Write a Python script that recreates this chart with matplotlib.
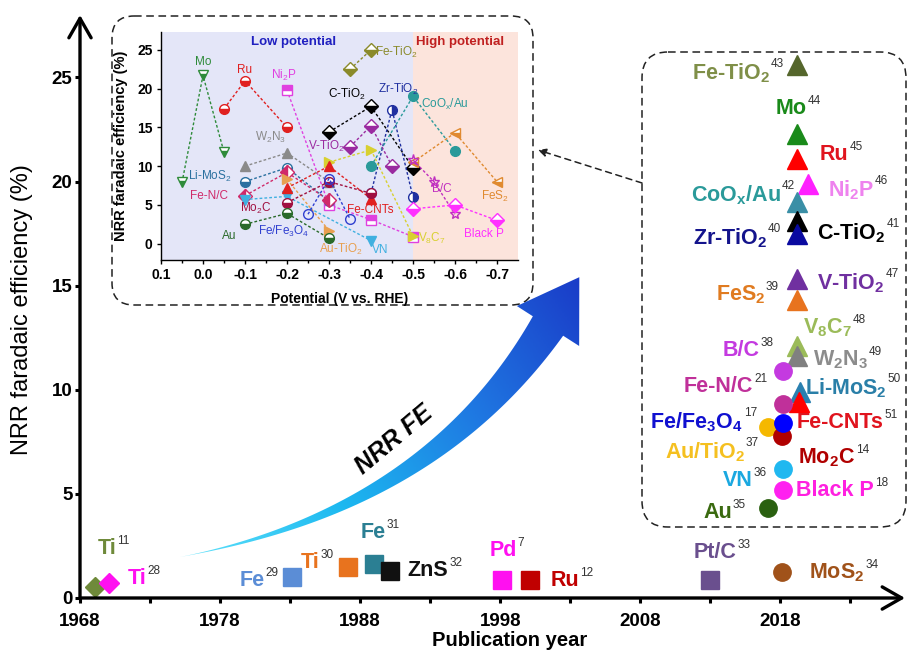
import numpy as np
import matplotlib
matplotlib.use("Agg")
import matplotlib.pyplot as plt
from matplotlib.patches import FancyBboxPatch, Polygon
from matplotlib.colors import LinearSegmentedColormap

plt.rcParams['font.family'] = 'Liberation Sans'
plt.rcParams['mathtext.fontset'] = 'custom'
plt.rcParams['mathtext.rm'] = 'Liberation Sans'
plt.rcParams['mathtext.bf'] = 'Liberation Sans:bold'
plt.rcParams['mathtext.default'] = 'regular'

# ---- main chart data: year of publication vs NRR faradaic efficiency (%)
early_names = ['Ti', 'Ti', 'Fe', 'Ti', 'Fe', 'ZnS', 'Pd', 'Ru', 'Pt/C', r'MoS$_\mathbf{2}$']
early_refs = ['11', '28', '29', '30', '31', '32', '7', '12', '33', '34']
early_year = [1969.1, 1970.1, 1983.1, 1987.1, 1989.0, 1990.1, 1998.1, 2000.1, 2013.0, 2018.1]
early_fe = [0.55, 0.7, 1.0, 1.5, 1.65, 1.3, 0.85, 0.85, 0.85, 1.25]

tri_names = [r'Fe-TiO$_\mathbf{2}$', 'Mo', 'Ru', r'Ni$_\mathbf{2}$P', r'CoO$_\mathbf{x}$/Au',
             r'C-TiO$_\mathbf{2}$', r'Zr-TiO$_\mathbf{2}$', r'V-TiO$_\mathbf{2}$', r'FeS$_\mathbf{2}$',
             r'V$_\mathbf{8}$C$_\mathbf{7}$', r'W$_\mathbf{2}$N$_\mathbf{3}$', r'Li-MoS$_\mathbf{2}$', 'Fe-CNTs']
tri_refs = ['43', '44', '45', '46', '42', '41', '40', '47', '39', '48', '49', '50', '51']
tri_year = [2019.2, 2019.2, 2019.2, 2020.0, 2019.2, 2019.2, 2019.2, 2019.2, 2019.2, 2019.2, 2019.2, 2019.4, 2019.3]
tri_fe = [25.6, 22.3, 21.1, 19.9, 19.0, 18.1, 17.5, 15.3, 14.3, 12.1, 11.6, 9.9, 9.4]

dot_names = ['B/C', 'Fe-N/C', r'Au/TiO$_\mathbf{2}$', r'Mo$_\mathbf{2}$C', r'Fe/Fe$_\mathbf{3}$O$_\mathbf{4}$',
             'VN', 'Black P', 'Au']
dot_refs = ['38', '21', '37', '14', '17', '36', '18', '35']
dot_year = [2018.2, 2018.2, 2017.1, 2018.1, 2018.2, 2018.2, 2018.2, 2017.1]
dot_fe = [10.9, 9.3, 8.2, 7.8, 8.4, 6.2, 5.2, 4.3]

# ---- inset data: potential (V vs RHE) vs FE (%)
ins_names = ['Mo', 'Ru', 'Ni$_2$P', 'Fe-TiO$_2$', 'C-TiO$_2$', 'Zr-TiO$_2$', 'CoO$_x$/Au', 'V-TiO$_2$',
             'V$_8$C$_7$', 'FeS$_2$', 'B/C', 'Black P', 'W$_2$N$_3$', 'Li-MoS$_2$', 'Fe-N/C', 'VN',
             'Au-TiO$_2$', 'Fe-CNTs', 'Mo$_2$C', 'Au', 'Fe/Fe$_3$O$_4$']
ins_pot = [[0.05, 0.0, -0.05], [-0.05, -0.1, -0.2], [-0.2, -0.3, -0.4, -0.5], [-0.35, -0.4],
           [-0.3, -0.4, -0.5], [-0.4, -0.45, -0.5], [-0.4, -0.5, -0.6], [-0.35, -0.4, -0.45],
           [-0.3, -0.4, -0.5], [-0.5, -0.6, -0.7], [-0.5, -0.55, -0.6], [-0.5, -0.6, -0.7],
           [-0.1, -0.2, -0.3], [-0.1, -0.2, -0.3], [-0.1, -0.2, -0.3], [-0.1, -0.2, -0.4],
           [-0.2, -0.3], [-0.2, -0.3, -0.4], [-0.2, -0.3, -0.4], [-0.1, -0.2, -0.3], [-0.25, -0.3, -0.35]]
ins_fe = [[7.9, 21.7, 11.8], [17.4, 21.0, 15.0], [19.8, 5.0, 3.1, 0.9], [22.5, 25.0],
          [14.4, 17.7, 9.8], [6.5, 17.3, 6.0], [10.0, 19.0, 12.0], [12.5, 15.2, 10.0],
          [10.5, 12.1, 1.0], [10.5, 14.3, 8.0], [10.8, 8.0, 3.8], [4.5, 5.0, 3.0],
          [10.0, 11.7, 8.0], [8.0, 9.8, 5.5], [6.2, 9.2, 5.6], [5.7, 6.1, 0.4],
          [8.3, 1.7], [7.2, 10.0, 5.8], [5.3, 8.0, 6.5], [2.5, 3.9, 0.7], [3.8, 8.4, 3.2]]

# ---- styles
early_colors = ['#6f8a3a', '#ff10f0', '#5b8dd6', '#e8731e', '#2b7f93', '#111111', '#ff10f0', '#c00000', '#6a4f8e', '#a0521a']
early_markers = ['D', 'D', 's', 's', 's', 's', 's', 's', 's', 'o']
tri_colors = ['#55662c', '#1a8a1a', '#ff0000', '#ff20ff', '#3a8fa6', '#000000', '#0a0aa0', '#7030a0', '#e8731e',
              '#9bbb59', '#808080', '#2a80b0', '#ff0000']
tri_text_colors = ['#7f8f48', '#1a8a1a', '#e0141e', '#ee82ee', '#2a9a9a', '#000000', '#14148c', '#7030a0', '#e07b20',
                   '#9bbb59', '#8c8c8c', '#2a7fa8', '#e0141e']
dot_colors = ['#c43ae0', '#c0309a', '#f5b800', '#b00000', '#0000ff', '#20b8f0', '#ff20f0', '#2a6010']
dot_text_colors = ['#c43ae0', '#c0309a', '#f5c020', '#b00000', '#1010d0', '#1aa8e0', '#ff20e0', '#3a6a10']
ins_colors = ['#2e8b3a', '#e02020', '#e040e0', '#8a8a2a', '#000000', '#2030a0', '#2a9a9a', '#9a2aa0',
              '#d8d030', '#e08a30', '#c030c0', '#ff30ff', '#8a8a8a', '#2a70a0', '#d02a6a', '#40b0e0',
              '#e8a050', '#e02020', '#a01040', '#2a6a2a', '#3040d0']
ins_markers = ['v', 'o', 's', 'D', 'D', 'o', 'o', 'D', '>', '<', '*', 'D', '^', 'o', 'D', 'v',
               '>', '^', 'o', 'o', 'o']
ins_fill = ['bottom', 'bottom', 'top', 'bottom', 'bottom', 'right', 'full', 'bottom', 'full', 'bottom', 'none',
            'bottom', 'full', 'bottom', 'left', 'full', 'full', 'full', 'bottom', 'bottom', 'none']

# label anchors (figure pixels, y down)
early_lab = [(107, 549, 'center'), (137, 578, 'center'), (252, 580, 'center'), (310, 563, 'center'),
             (373, 533, 'center'), (428, 570, 'center'), (503, 550, 'center'), (565, 580, 'center'),
             (715, 552, 'center'), (837, 573, 'center')]
tri_lab = [(770, 73, 'right'), (776, 108, 'left'), (820, 155, 'left'), (828, 190, 'left'), (781, 195, 'right'),
           (817, 233, 'left'), (767, 238, 'right'), (817, 283, 'left'), (765, 295, 'right'), (803, 328, 'left'),
           (813, 360, 'left'), (805, 388, 'left'), (797, 423, 'left')]
dot_lab = [(760, 350, 'right'), (753, 387, 'right'), (745, 452, 'right'), (798, 458, 'left'),
           (743, 422, 'right'), (753, 480, 'right'), (796, 490, 'left'), (732, 513, 'right')]
ins_lab = [(0.0, 23.4), (-0.098, 22.4), (-0.193, 21.7), (-0.461, 24.7), (-0.343, 19.3), (-0.465, 19.9),
           (-0.576, 18.0), (-0.295, 12.6), (-0.544, 0.7), (-0.694, 6.1), (-0.568, 7.0), (-0.67, 1.2),
           (-0.161, 13.7), (-0.015, 8.7), (-0.015, 6.2), (-0.422, -0.8), (-0.327, -0.8), (-0.398, 4.4),
           (-0.125, 4.5), (-0.062, 1.0), (-0.193, 1.6)]

W, H = 909, 652
fig = plt.figure(figsize=(W / 100, H / 100), dpi=100)


def fbox(x0, y0, x1, y1):
    return [x0 / W, 1 - y1 / H, (x1 - x0) / W, (y1 - y0) / H]


# ---------------- main axes
ax = fig.add_axes(fbox(80, 15, 905, 598))
ax.set_xlim(1968, 2026.9)
ax.set_ylim(0, 28.0)
for s in ax.spines.values():
    s.set_visible(False)
ax.annotate('', xy=(1, 0), xytext=(0, 0), xycoords='axes fraction',
            arrowprops=dict(arrowstyle='->,head_length=0.7,head_width=0.4', lw=2.4, color='k',
                            shrinkA=0, shrinkB=0, mutation_scale=20))
ax.annotate('', xy=(0, 1), xytext=(0, 0), xycoords='axes fraction',
            arrowprops=dict(arrowstyle='->,head_length=0.7,head_width=0.4', lw=2.4, color='k',
                            shrinkA=0, shrinkB=0, mutation_scale=20))
ax.set_xticks([1968, 1978, 1988, 1998, 2008, 2018])
ax.set_xticks([1973, 1983, 1993, 2003, 2013, 2023], minor=True)
ax.set_yticks([0, 5, 10, 15, 20, 25])
ax.tick_params(which='both', direction='out', length=3.5, width=2.2)
ax.tick_params(axis='x', which='both', pad=7)
ax.tick_params(axis='y', pad=2)
for lab in ax.get_xticklabels() + ax.get_yticklabels():
    lab.set_fontweight('bold')
    lab.set_fontsize(13.5)

for x, y, c, m in zip(early_year, early_fe, early_colors, early_markers):
    ms = 10 if m == 'D' else (13 if m == 's' else 12.5)
    ax.plot(x, y, marker=m, color=c, ms=ms, mec=c, ls='none', clip_on=False)
for x, y, c in zip(tri_year, tri_fe, tri_colors):
    ax.plot(x, y, marker='^', color=c, ms=14, mec=c, ls='none')
for x, y, c in zip(dot_year, dot_fe, dot_colors):
    ax.plot(x, y, marker='o', color=c, ms=12.5, mec=c, ls='none')

fig.text(22 / W, 1 - 310 / H, 'NRR faradaic efficiency (%)', rotation=90, fontsize=17,
         ha='center', va='center')
fig.text(510 / W, 1 - 641 / H, 'Publication year', fontsize=14.5, fontweight='bold',
         ha='center', va='center')

# ---------------- overlay (pixel coordinates)
ov = fig.add_axes([0, 0, 1, 1], zorder=1)
ov.patch.set_alpha(0)
ov.axis('off')

ov.add_patch(FancyBboxPatch((112, 16), 421, 289, boxstyle='round,pad=0,rounding_size=22',
                            fill=False, ls=(0, (5, 3)), lw=1.1, ec='#222222'))
ov.add_patch(FancyBboxPatch((642, 52), 264, 475, boxstyle='round,pad=0,rounding_size=26',
                            fill=False, ls=(0, (5, 3)), lw=1.1, ec='#222222'))
ov.annotate('', xy=(538, 150), xytext=(642, 183),
            arrowprops=dict(arrowstyle='-|>', ls=(0, (4, 3)), lw=1.1, color='#222222',
                            mutation_scale=12, shrinkA=0, shrinkB=0))

# curved gradient arrow
t = np.linspace(0, 1, 80)
P0, P1, P2 = np.array([180.0, 557.0]), np.array([430.0, 510.0]), np.array([548.0, 326.0])
B = ((1 - t) ** 2)[:, None] * P0 + (2 * (1 - t) * t)[:, None] * P1 + (t ** 2)[:, None] * P2
D = 2 * (1 - t)[:, None] * (P1 - P0) + 2 * t[:, None] * (P2 - P1)
D = D / np.linalg.norm(D, axis=1)[:, None]
N = np.c_[-D[:, 1], D[:, 0]]
w = 18 * t ** 1.3
upper = B + w[:, None] * N
lower = B - w[:, None] * N
tip = P2 + 58 * D[-1]
head = np.array([P2 + 37 * N[-1], tip, P2 - 37 * N[-1]])
poly = np.vstack([upper, head, lower[::-1]])
gx, gy = np.meshgrid(np.linspace(170, 620, 300), np.linspace(260, 570, 220))
dv = tip - P0
val = np.clip(((gx - P0[0]) * dv[0] + (gy - P0[1]) * dv[1]) / (dv @ dv), 0, 1)
cmap = LinearSegmentedColormap.from_list('arr', ['#5fe2fb', '#1cb8f0', '#1f78e2', '#1a3cc8'])
im = ov.imshow(val, extent=(170, 620, 570, 260), origin='upper', cmap=cmap, aspect='auto', zorder=2)
shape = Polygon(poly, closed=True, fc='none', ec='none')
ov.add_patch(shape)
im.set_clip_path(shape)
ov.text(394, 440, 'NRR FE', rotation=40, fontsize=18, fontweight='bold', style='italic',
        ha='center', va='center', zorder=3)
ov.set_xlim(0, W)
ov.set_ylim(H, 0)

renderer = fig.canvas.get_renderer()


def tagged(x, y, name, ref, color, ha):
    txt = ov.text(x, y, name, color=color, fontsize=15.5, fontweight='bold', ha=ha, va='center', zorder=4)
    bb = txt.get_window_extent(renderer)
    fig.text((bb.x1 + 1) / W, (bb.y1 - 3) / H, ref, fontsize=8.5, color='#333333',
             ha='left', va='center')


for (x, y, ha), n, r, c in zip(early_lab, early_names, early_refs, early_colors):
    tagged(x, y, n, r, c, ha)
for (x, y, ha), n, r, c in zip(tri_lab, tri_names, tri_refs, tri_text_colors):
    tagged(x, y, n, r, c, ha)
for (x, y, ha), n, r, c in zip(dot_lab, dot_names, dot_refs, dot_text_colors):
    tagged(x, y, n, r, c, ha)

# ---------------- inset
ins = fig.add_axes(fbox(161, 32, 518, 260), zorder=2)
ins.patch.set_alpha(0)
ins.set_xlim(0.1, -0.75)
ins.set_ylim(-2.1, 27.3)
ins.axvspan(0.1, -0.5, color='#e4e6f8', lw=0, zorder=0)
ins.axvspan(-0.5, -0.75, color='#fce4dc', lw=0, zorder=0)
for s in ['top', 'right']:
    ins.spines[s].set_visible(False)
for s in ['left', 'bottom']:
    ins.spines[s].set_linewidth(1.0)
ticks = [0.1, 0.0, -0.1, -0.2, -0.3, -0.4, -0.5, -0.6, -0.7]
ins.set_xticks(ticks)
ins.set_xticklabels(['0.1', '0.0', '-0.1', '-0.2', '-0.3', '-0.4', '-0.5', '-0.6', '-0.7'])
ins.set_xticks([0.05, -0.05, -0.15, -0.25, -0.35, -0.45, -0.55, -0.65], minor=True)
ins.set_yticks([0, 5, 10, 15, 20, 25])
ins.tick_params(which='both', direction='out', length=3, width=1, labelsize=10, pad=3)
ins.tick_params(which='minor', length=2)
for lab in ins.get_xticklabels() + ins.get_yticklabels():
    lab.set_fontweight('bold')
ins.set_xlabel('Potential (V vs. RHE)', fontsize=10, fontweight='bold')
ins.xaxis.set_label_coords(0.5, -0.14)
ins.set_ylabel('NRR faradaic efficiency (%)', fontsize=10.5, fontweight='bold')
ins.yaxis.set_label_coords(-0.092, 0.5)

for xs, ys, c, m, f in zip(ins_pot, ins_fe, ins_colors, ins_markers, ins_fill):
    ins.plot(xs, ys, ls=(0, (2, 1.5)), lw=1.0, color=c, marker=m, ms=8 if m == '*' else 7,
             fillstyle=f, mfc=c if f != 'none' else 'none', mfcalt='white', mec=c, mew=1.0, zorder=3)
for (x, y), n, c in zip(ins_lab, ins_names, ins_colors):
    ins.text(x, y, n, color=c, fontsize=8.5, ha='center', va='center', zorder=4)
ins.text(-0.216, 26.0, 'Low potential', color='#2020c0', fontsize=9.5, fontweight='bold',
         ha='center', va='center')
ins.text(-0.611, 26.0, 'High potential', color='#c02020', fontsize=9.5, fontweight='bold',
         ha='center', va='center')

fig.savefig('out.png', dpi=100)
